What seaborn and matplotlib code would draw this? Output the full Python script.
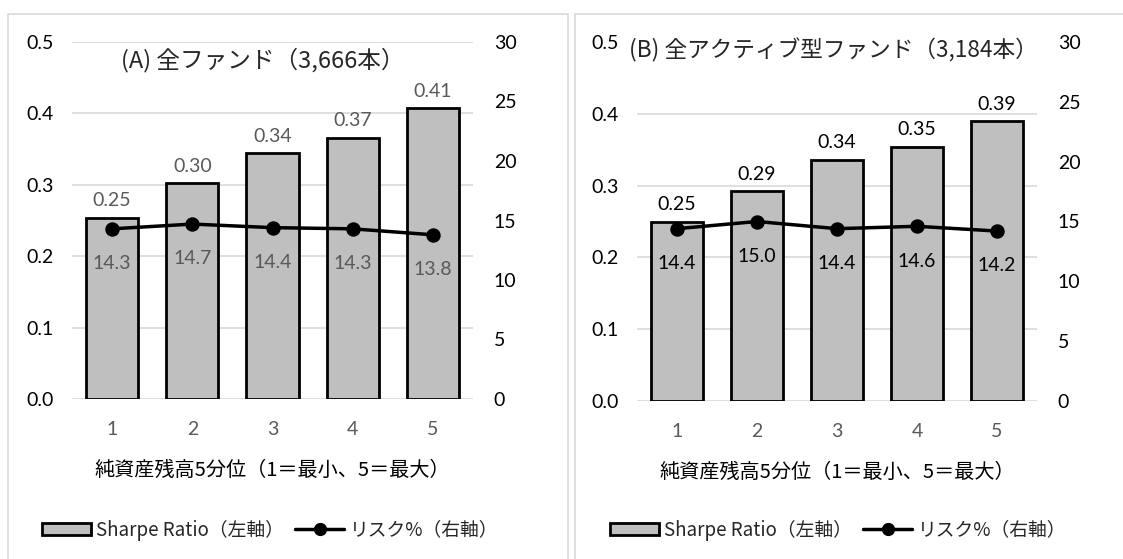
import matplotlib
matplotlib.use("Agg")
import matplotlib.pyplot as plt
import seaborn as sns
import pandas as pd
from matplotlib.patches import Patch, Rectangle
from matplotlib.lines import Line2D

# data
quintiles = ["1", "2", "3", "4", "5"]
sharpe_all = [0.254, 0.302, 0.344, 0.366, 0.407]
risk_all = [14.3, 14.7, 14.4, 14.3, 13.8]
sharpe_active = [0.25, 0.292, 0.336, 0.354, 0.39]
risk_active = [14.4, 15.0, 14.4, 14.6, 14.2]

title_all = "(A) 全ファンド（3,666本）"
title_active = "(B) 全アクティブ型ファンド（3,184本）"
xlabel_text = "純資産残高5分位（1＝最小、5＝最大）"
legend_bar = "Sharpe Ratio（左軸）"
legend_line = "リスク%（右軸）"

sns.set_theme(style="white")
plt.rcParams['font.family'] = ['Lato', 'Noto Sans CJK JP', 'DejaVu Sans']
JP = ['Noto Sans CJK JP', 'DejaVu Sans']

W, H = 1123, 559
fig = plt.figure(figsize=(W / 100, H / 100), dpi=100)

# light panel borders
for x0, x1 in [(8, 568), (575, 1140)]:
    fig.add_artist(Rectangle((x0 / W, -0.05), (x1 - x0) / W, (H - 14) / H + 0.05,
                             transform=fig.transFigure, fill=False,
                             edgecolor="#d9d9d9", linewidth=1.2))


def draw_panel(rect, sharpe, risk, title, title_pos, title_size, label_color, legend_x):
    ax = fig.add_axes(rect)
    df = pd.DataFrame({"q": quintiles, "sharpe": sharpe, "risk": risk})
    sns.barplot(data=df, x="q", y="sharpe", ax=ax, color="#bfbfbf",
                edgecolor="black", linewidth=2, width=0.65, saturation=1)
    ax.set_ylim(0, 0.5)
    ax.set_xlim(-0.5, 4.5)
    ax.set_yticks([0, 0.1, 0.2, 0.3, 0.4, 0.5])
    ax.set_yticklabels(["0.0", "0.1", "0.2", "0.3", "0.4", "0.5"])
    ax.yaxis.grid(True, color="#d9d9d9", linewidth=1.2)
    ax.set_axisbelow(True)
    for s in ax.spines.values():
        s.set_visible(False)
    ax.tick_params(axis="y", length=0, pad=13, labelsize=14, labelcolor="black")
    ax.tick_params(axis="x", length=0, pad=16, labelsize=14, labelcolor="#595959")
    ax.set_ylabel("")
    ax.set_xlabel(xlabel_text, fontsize=14.5, family=JP, color="black")
    ax.xaxis.set_label_coords(0.5, -0.2)
    ax.xaxis.label.set_verticalalignment("center")
    ax.bar_label(ax.containers[0], labels=[f"{v:.2f}" for v in sharpe],
                 padding=6, fontsize=14, color=label_color)

    ax2 = ax.twinx()
    sns.pointplot(data=df, x="q", y="risk", ax=ax2, color="black",
                  markers="o", markersize=8.5, linewidth=2.5)
    ax2.set_ylim(0, 30)
    ax2.set_xlim(-0.5, 4.5)
    ax2.set_yticks([0, 5, 10, 15, 20, 25, 30])
    ax2.set_ylabel("")
    for s in ax2.spines.values():
        s.set_visible(False)
    ax2.tick_params(axis="y", length=0, pad=15, labelsize=14, labelcolor="black")
    for i, v in enumerate(risk):
        ax2.annotate(f"{v:.1f}", (i, v), xytext=(0, -25), textcoords="offset points",
                     ha="center", va="center", fontsize=14, color=label_color)

    ax2.text(title_pos[0], title_pos[1], title, transform=ax.transAxes,
             ha="center", va="center", fontsize=title_size, family=JP, zorder=5,
             bbox=dict(facecolor="white", edgecolor="none", pad=1))

    handles = [Patch(facecolor="#bfbfbf", edgecolor="black", linewidth=2),
               Line2D([], [], color="black", linewidth=2.5, marker="o", markersize=8.5)]
    fig.legend(handles, [legend_bar, legend_line], loc="center",
               bbox_to_anchor=(legend_x, (H - 530) / H), ncol=2, frameon=False,
               prop={"family": JP, "size": 13.5}, handlelength=2.6, handleheight=0.55,
               handletextpad=0.3, columnspacing=0.6)


draw_panel([72 / W, (H - 399) / H, 401 / W, 357 / H], sharpe_all, risk_all,
           title_all, (0.476, 0.95), 17, "#595959", 270 / W)
draw_panel([637 / W, (H - 401) / H, 400 / W, 359 / H], sharpe_active, risk_active,
           title_active, (0.49, 0.978), 16.3, "black", 838 / W)

fig.savefig("out.png", dpi=100)
